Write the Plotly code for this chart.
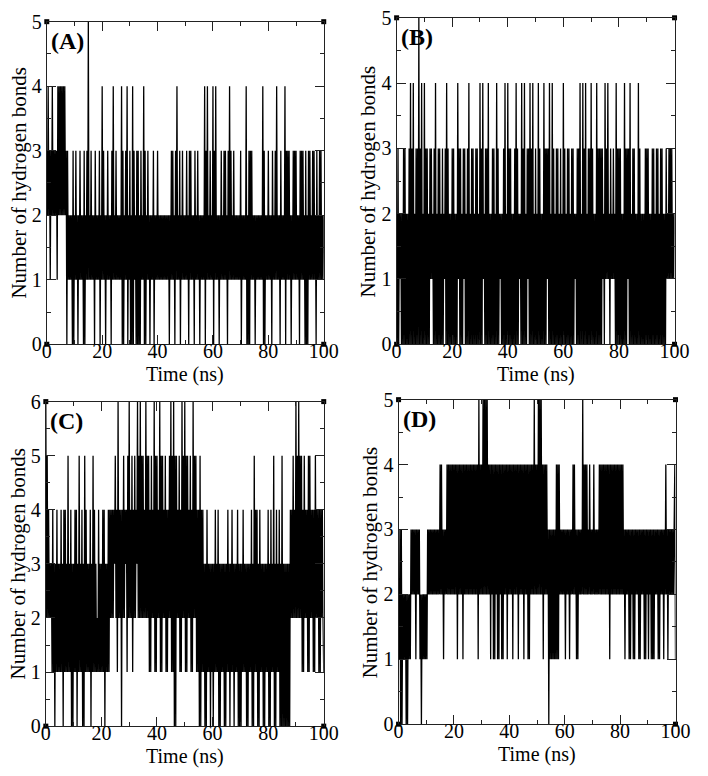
import numpy as np
import plotly.graph_objects as go

# ---------------- data (hydrogen-bond counts, one value every 0.25 ns) ----------------
hb_A = """
3242 3132 4232 3231 4242 4242 4242 3031 2121 2030
2131 2021 3121 2030 2131 5121 3121 2031 2121 3021
4131 2021 3121 2031 4121 3121 2121 4030 2131 4021
3020 4031 2030 3020 3121 4030 2131 2021 2130 2121
3121 2121 2121 2121 2021 3131 2031 4121 3021 3121
2131 2031 3121 2031 2131 2021 2121 4031 4121 3121
4031 4121 2021 3121 3131 2031 4131 2131 2121 2121
3021 2121 4020 3031 3121 2021 2121 2121 4030 2121
3121 2031 2131 4121 2031 2121 4031 3131 2021 3131
3121 2031 3131 2030 2031 3121 3131 2031 2131 3121
2
"""

hb_B = """
2030 2120 2030 3020 2030 4030 4020 3030 5030 4020
4030 3020 3131 2030 4020 3030 2030 2130 4030 2020
3030 2020 4130 3020 3130 2030 4020 3030 2030 3020
4030 4120 3030 4020 2030 3020 4030 2120 2030 4020
4030 3020 2030 4030 2120 4030 4020 3130 4030 4020
3020 4030 2020 4030 3130 4020 4030 2030 3020 3020
4030 2030 3020 3030 2120 3030 4020 4030 4020 3030
4030 2020 4030 3030 3120 4131 4120 3121 3120 4030
3030 2020 4030 3130 4020 3030 2020 4030 2020 2030
3030 2020 3030 2030 3020 3030 2020 3121 3131 3121
2
"""

hb_C = """
6252 4232 3141 3031 4131 3141 3041 4131 5131 4030
3141 4031 5131 4030 5141 3131 4031 5141 3121 4131
3141 4031 3141 4242 4243 5241 6242 4042 5243 4152
6242 5142 5243 6252 6252 5242 6252 5141 5242 6151
5242 6151 5242 5141 4252 6151 6050 5242 5141 6252
6151 5242 5141 6252 5141 4050 4141 3030 4131 3031
3031 4131 4030 3131 3030 3141 3031 4130 3131 4030
3031 4131 3030 3131 4030 5141 4030 4131 3030 3131
4030 4131 5030 4131 4030 5030 3030 3030 4242 5242
6252 6252 5141 5242 4151 5242 4141 5242 4141 4242
1
"""

hb_D = """
2130 3021 2120 2021 2132 3232 3132 3231 2021 2121
2132 3232 3232 3232 3232 4242 3132 3242 4242 4242
4242 4142 4242 4142 4242 4242 4242 4242 4241 5242
4252 5252 5242 4142 4141 4241 4142 4141 4242 4142
4242 4142 4242 4142 4242 4142 4241 4142 4242 5242
4252 5252 4142 4242 3031 3131 3131 4141 4232 3232
3132 3231 3232 4242 3131 3232 3252 4242 4232 4232
3242 3232 3242 4242 4242 4242 4142 4242 4242 4242
4242 4231 3232 3131 3231 3132 3231 3132 3231 3132
3132 3131 3132 3231 3132 3231 3242 3132 3232 3234
1
"""

panel_labels = ["(A)", "(B)", "(C)", "(D)"]
y_max = [5, 5, 6, 5]
x_ticks = [0, 20, 40, 60, 80, 100]
t_end = 100.0

series = [hb_A, hb_B, hb_C, hb_D]

# ---------------- layout geometry (pixels) ----------------
W, H = 708, 776
# (left, right, top, bottom) of each plot area in pixels
boxes = [
    (43, 328, 11, 343),
    (403, 689, 7, 343),
    (42, 328, 402, 736),
    (405, 690, 400, 734),
]

def px_x(p):
    return p / W

def px_y(p):
    return 1 - p / H

FONT = "Liberation Serif"

fig = go.Figure()
layout = dict(
    width=W, height=H,
    margin=dict(l=0, r=0, t=0, b=0),
    paper_bgcolor="white", plot_bgcolor="white",
    showlegend=False,
    font=dict(family=FONT, size=20, color="black"),
    annotations=[], shapes=[],
)

for k, s in enumerate(series):
    vals = np.array([int(c) for c in "".join(s.split())], dtype=float)
    t = np.linspace(0, t_end, len(vals))
    xa = "x" if k == 0 else f"x{k+1}"
    ya = "y" if k == 0 else f"y{k+1}"
    fig.add_trace(go.Scatter(
        x=t, y=vals, mode="lines", xaxis=xa, yaxis=ya,
        line=dict(color="black", width=1.3, simplify=False), hoverinfo="skip",
    ))
    # corner squares of the frame
    fig.add_trace(go.Scatter(
        x=[0, t_end, 0, t_end], y=[0, 0, y_max[k], y_max[k]],
        mode="markers", xaxis=xa, yaxis=ya, cliponaxis=False,
        marker=dict(symbol="square", size=5, color="black"),
        hoverinfo="skip",
    ))
    l, r, tp, b = boxes[k]
    xname = "xaxis" if k == 0 else f"xaxis{k+1}"
    yname = "yaxis" if k == 0 else f"yaxis{k+1}"
    common = dict(
        showline=True, linecolor="#222", linewidth=1, mirror="ticks",
        ticks="inside", tickcolor="#222", tickwidth=1, ticklen=9,
        showgrid=False, zeroline=False,
        tickfont=dict(family=FONT, size=20, color="black"),
    )
    layout[xname] = dict(
        common, domain=[px_x(l), px_x(r)], anchor=ya, range=[0, t_end],
        tickvals=x_ticks, ticklabelstandoff=-11,
        minor=dict(ticks="inside", ticklen=4, dtick=10, tickcolor="#222", showgrid=False),
    )
    layout[yname] = dict(
        common, domain=[px_y(b), px_y(tp)], anchor=xa, range=[0, y_max[k]],
        dtick=1, tick0=0, ticklabelstandoff=0,
        minor=dict(ticks="inside", ticklen=4, dtick=0.5, tickcolor="#222", showgrid=False),
    )
    # panel label
    layout["annotations"].append(dict(
        text="<b>" + panel_labels[k] + "</b>", xref="paper", yref="paper",
        x=px_x(l + 2), y=px_y(tp + 20), xanchor="left", yanchor="middle",
        showarrow=False, font=dict(family=FONT, size=24, color="black"),
    ))
    # x title
    layout["annotations"].append(dict(
        text="Time (ns)", xref="paper", yref="paper",
        x=px_x((l + r) / 2), y=px_y(b + 31), xanchor="center", yanchor="middle",
        showarrow=False, font=dict(family=FONT, size=20, color="black"),
    ))
    # y title
    layout["annotations"].append(dict(
        text="Number of hydrogen bonds", xref="paper", yref="paper",
        x=px_x(l - 29), y=px_y((tp + b) / 2), xanchor="center", yanchor="middle",
        textangle=-90, showarrow=False, font=dict(family=FONT, size=21, color="black"),
    ))

fig.update_layout(**layout)
fig.write_html("out.html")
